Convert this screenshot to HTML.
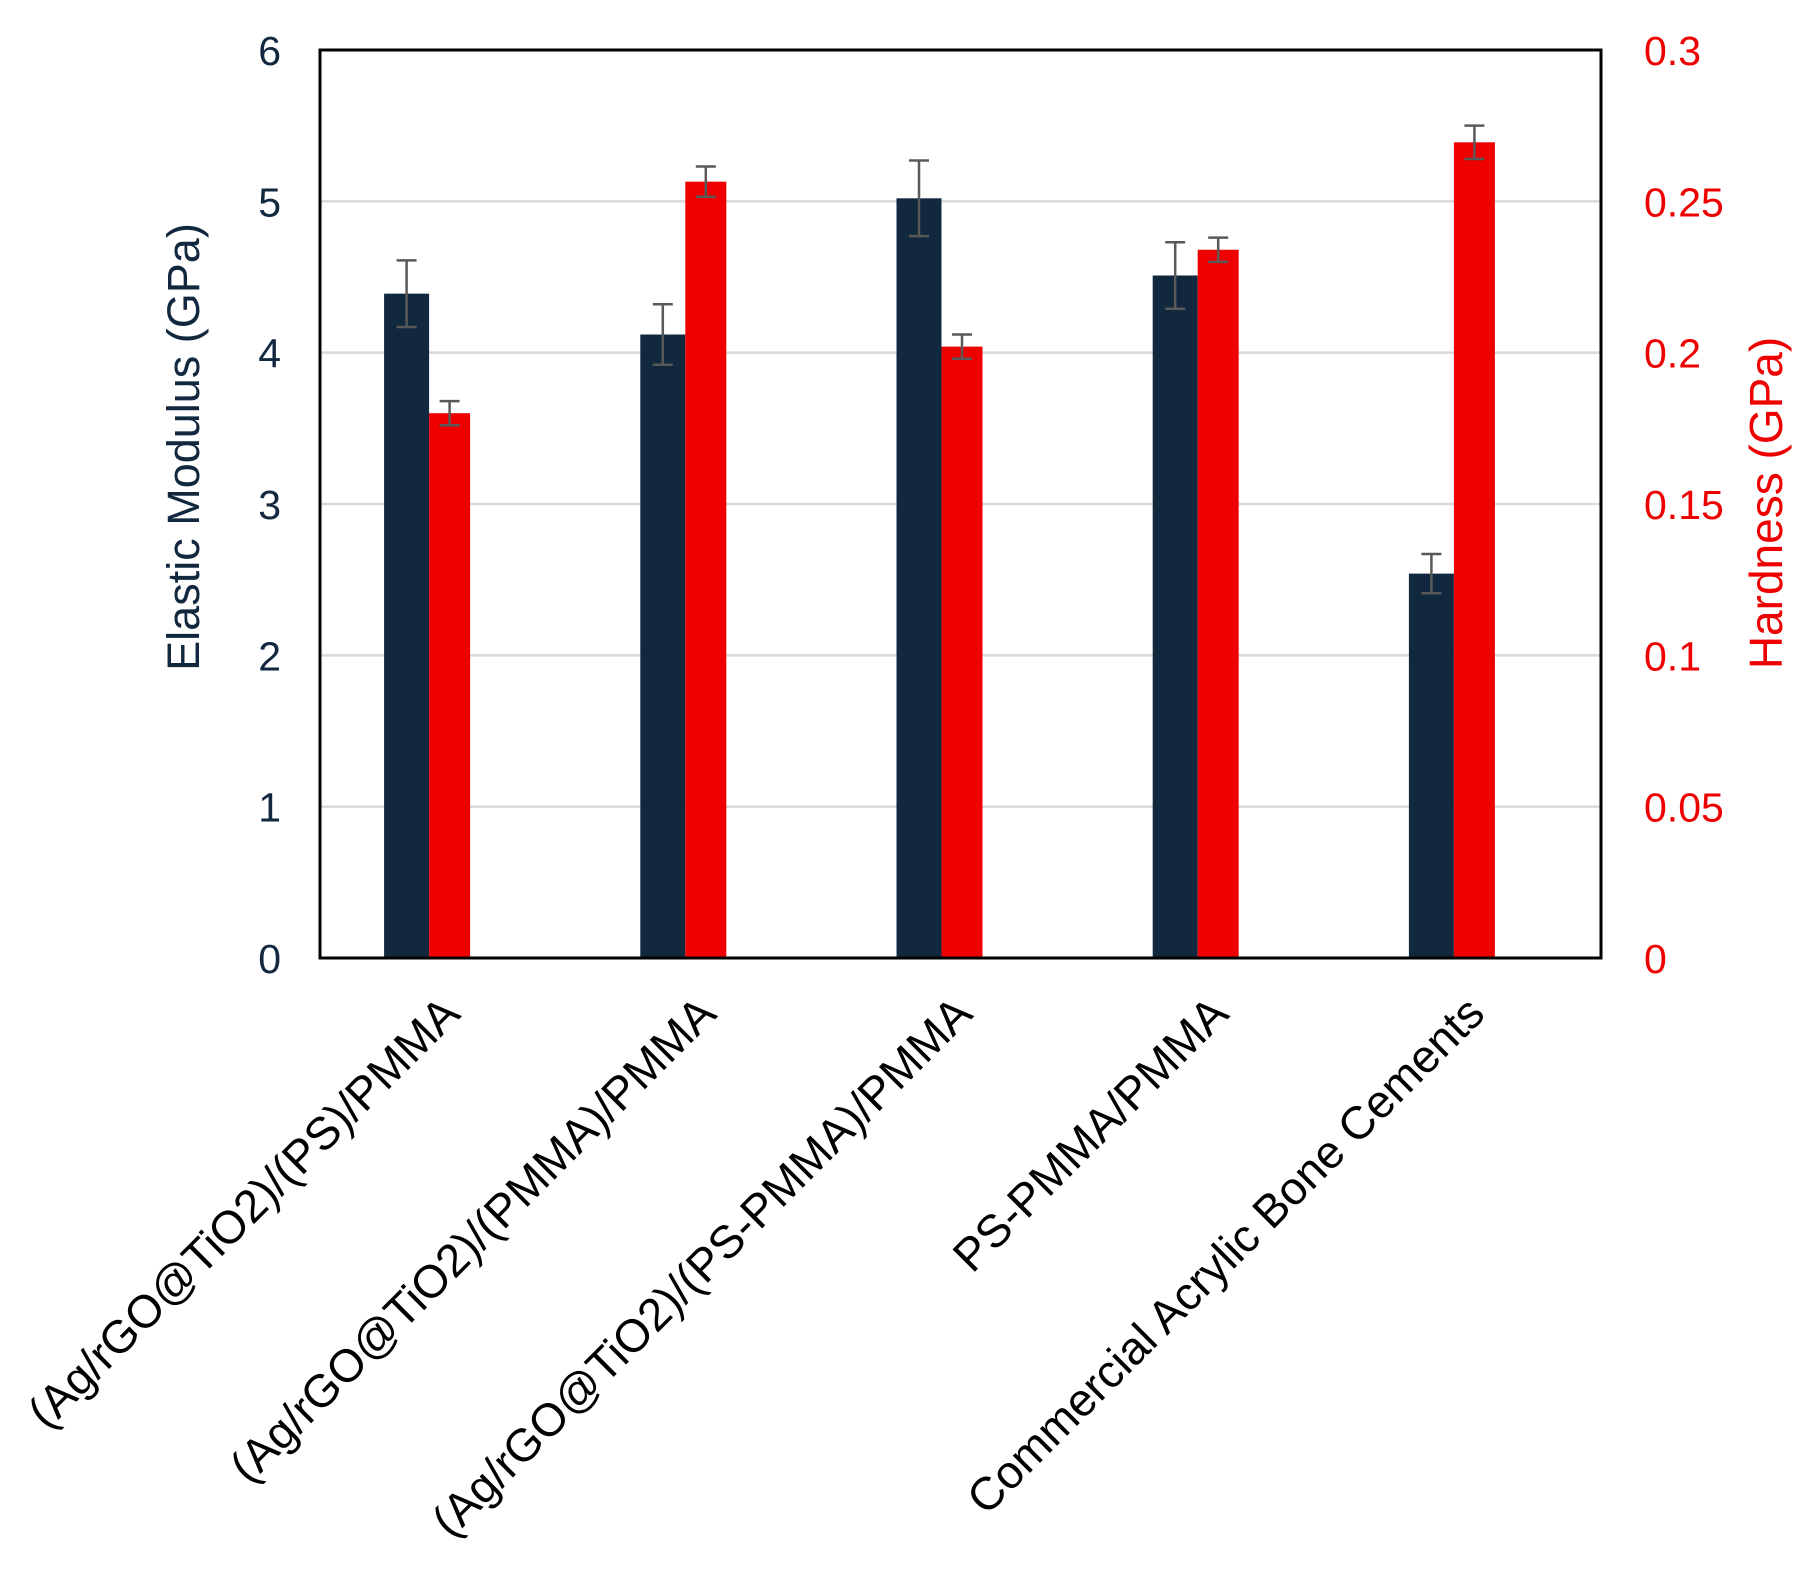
<!DOCTYPE html>
<html><head><meta charset="utf-8"><style>
html,body{margin:0;padding:0;background:#fff;}
svg{display:block;font-family:"Liberation Sans",Arial,sans-serif;}
</style></head><body>
<svg id="chart" width="1818" height="1572" viewBox="0 0 1818 1572" xmlns="http://www.w3.org/2000/svg">
<g id="grid"></g>
<g id="bars"></g>
<g id="errs"></g>
<rect x="320" y="50" width="1281" height="908" fill="none" stroke="#000" stroke-width="3"/>
<g id="lticks"></g>
<g id="rticks"></g>
<g id="cats"></g>
<text transform="translate(199,447) rotate(-90)" text-anchor="middle" font-size="45" fill="#12283f">Elastic Modulus (GPa)</text>
<text transform="translate(1782,503) rotate(-90)" text-anchor="middle" font-size="46" fill="#ee0000">Hardness (GPa)</text>
</svg>
<script>
const categories = ["(Ag/rGO@TiO2)/(PS)/PMMA","(Ag/rGO@TiO2)/(PMMA)/PMMA","(Ag/rGO@TiO2)/(PS-PMMA)/PMMA","PS-PMMA/PMMA","Commercial Acrylic Bone Cements"];
const modulus = [4.39, 4.12, 5.02, 4.51, 2.54];
const modulusErr = [0.22, 0.20, 0.25, 0.22, 0.13];
const hardness = [0.180, 0.2565, 0.202, 0.234, 0.2695];
const hardnessErr = [0.004, 0.005, 0.004, 0.004, 0.0055];
const leftTicks = [0,1,2,3,4,5,6];
const rightTicks = ["0","0.05","0.1","0.15","0.2","0.25","0.3"];

const NS="http://www.w3.org/2000/svg";
const X0=320,X1=1601,Y0=958,Y1=50;
const yL=v=>Y0-(v/6)*(Y0-Y1);
const yR=v=>Y0-(v/0.3)*(Y0-Y1);
const band=(X1-X0)/categories.length;
const xc=i=>X0+band*(i+0.5);
function mk(tag,attrs,parent){const e=document.createElementNS(NS,tag);for(const k in attrs)e.setAttribute(k,attrs[k]);parent.appendChild(e);return e;}
const G=id=>document.getElementById(id);

leftTicks.forEach((t,i)=>{
  if(t>0&&t<6){const l=mk('line',{x1:X0,x2:X1,y1:yL(t),y2:yL(t),stroke:'#d9d9d9','stroke-width':2.5},G('grid'));
  
  }
  const tx=mk('text',{x:281,y:yL(t)+15,'text-anchor':'end','font-size':41,fill:'#12283f'},G('lticks'));
  tx.textContent=t;
  
  
});
rightTicks.forEach((t,i)=>{
  const tx=mk('text',{x:1644,y:yR(i*0.05)+15,'font-size':41,fill:'#ee0000'},G('rticks'));
  tx.textContent=t;
  
  
});
function err(x,yt,yb){
  const g=mk('g',{stroke:'#595959','stroke-width':2.5},G('errs'));
  
  
  mk('line',{x1:x,x2:x,y1:yt,y2:yb},g);
  mk('line',{x1:x-10,x2:x+10,y1:yt,y2:yt},g);
  mk('line',{x1:x-10,x2:x+10,y1:yb,y2:yb},g);
}
categories.forEach((c,i)=>{
  const cx=xc(i);
  const b1=mk('rect',{x:cx-64,y:yL(modulus[i]),width:45,height:Y0-yL(modulus[i]),fill:'#12283f'},G('bars'));
  
  
  const b2=mk('rect',{x:cx-19,y:yR(hardness[i]),width:41,height:Y0-yR(hardness[i]),fill:'#ee0000'},G('bars'));
  
  
  err(cx-41.5,yL(modulus[i]+modulusErr[i]),yL(modulus[i]-modulusErr[i]));
  err(cx+1.5,yR(hardness[i]+hardnessErr[i]),yR(hardness[i]-hardnessErr[i]));
  const t=mk('text',{transform:`translate(${cx+14},1016) rotate(-45)`,'text-anchor':'end','font-size':46,fill:'#000'},G('cats'));
  t.textContent=c;
  
  
});
</script>
</body></html>
